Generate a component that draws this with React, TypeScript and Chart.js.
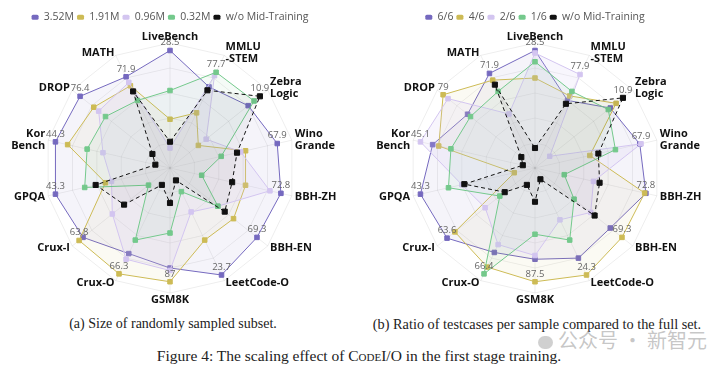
import React, { useEffect, useRef } from "react";
import { Chart, registerables } from "chart.js";

Chart.register(...registerables);
Chart.defaults.font.family = '"Open Sans", "DejaVu Sans", sans-serif';

// ---- data ----
const axisNames: string[][] = [
  ["LiveBench"], ["MMLU", "-STEM"], ["Zebra", "Logic"], ["Wino", "Grande"], ["BBH-ZH"], ["BBH-EN"],
  ["LeetCode-O"], ["GSM8K"], ["Crux-O"], ["Crux-I"], ["GPQA"], ["Kor", "Bench"], ["DROP"], ["MATH"],
];

// (a) size of randomly sampled subset — relative score per benchmark (% of axis range)
const subsetNames = ["3.52M", "1.91M", "0.96M", "0.32M", "w/o Mid-Training"];
const subset352 = [94, 72, 80, 88, 91, 89, 95, 80, 76, 89, 94, 94, 92, 81];
const subset191 = [39, 49, 29, 62, 62, 65, 64, 91, 94, 93, 53, 84, 78, 73];
const subset096 = [16, 82, 37, 58, 82, 49, 39, 82, 81, 59, 48, 55, 73, 76];
const subset032 = [62, 85, 86, 42, 26, 49, 21, 52, 64, 22, 70, 68, 66, 60];
const subsetBase = [21, 69, 92, 55, 51, 56, 11, 28, 15, 47, 61, 12, 18, 68];
const subsetMaxText = ["28.5", "77.7", "10.9", "67.9", "72.8", "69.3", "23.7", "87", "66.3", "63.8", "43.3", "44.3", "76.4", "71.9"];

// (b) ratio of testcases per sample
const ratioNames = ["6/6", "4/6", "2/6", "1/6", "w/o Mid-Training"];
const ratio66 = [94, 60, 77, 86, 91, 77, 80, 73, 75, 90, 94, 84, 69, 84];
const ratio46 = [72, 64, 83, 45, 90, 89, 95, 91, 88, 82, 17, 79, 94, 78];
const ratio26 = [92, 83, 15, 87, 48, 57, 46, 70, 68, 51, 60, 94, 89, 48];
const ratio16 = [85, 68, 75, 66, 24, 40, 64, 53, 94, 36, 71, 69, 66, 68];
const ratioBase = [16, 57, 90, 52, 53, 61, 10, 27, 15, 31, 58, 10, 14, 74];
const ratioMaxText = ["28.5", "77.9", "10.9", "67.9", "72.8", "69.3", "24.3", "87.5", "66.4", "63.6", "43.3", "45.1", "79", "71.9"];

// ---- styles ----
const lineColors = ["#7569BF", "#CDBB55", "#D3C5F0", "#74C98C", "#111111"];
const fillColors = [
  "rgba(117,105,191,0.07)",
  "rgba(205,187,85,0.07)",
  "rgba(211,197,240,0.16)",
  "rgba(116,201,140,0.07)",
  "rgba(0,0,0,0.035)",
];

const legendSpacer = {
  id: "legendSpacer",
  beforeLayout(chart: any) {
    const lg = chart.legend;
    if (lg && !lg._spaced) {
      const orig = lg.fit;
      lg.fit = function () {
        orig.call(this);
        this.height += 11;
      };
      lg._spaced = true;
    }
  },
};

const axisText = {
  id: "axisText",
  afterDatasetsDraw(chart: any, _a: any, opts: any) {
    const scale = chart.scales.r;
    const ctx = chart.ctx;
    const n = chart.data.labels.length;
    const datasets = chart.data.datasets;
    ctx.save();
    ctx.font = '9.5px "Open Sans"';
    ctx.fillStyle = "#666";
    ctx.textAlign = "center";
    ctx.textBaseline = "bottom";
    for (let i = 0; i < n; i++) {
      let best = -Infinity;
      datasets.forEach((ds: any) => {
        if (ds.data[i] > best) best = ds.data[i];
      });
      const p = scale.getPointPosition(i, scale.getDistanceFromCenterForValue(best));
      ctx.fillText(opts.values[i], p.x, p.y - 3);
    }
    ctx.font = 'bold 11px "Open Sans"';
    ctx.fillStyle = "#111";
    ctx.textBaseline = "middle";
    const lh = 12;
    for (let i = 0; i < n; i++) {
      const ang = (i * 360) / n;
      const top = ang < 1;
      const bottom = Math.abs(ang - 180) < 1;
      const p = scale.getPointPosition(i, scale.drawingArea + (top || bottom ? 0.5 : 3));
      const lines: string[] = opts.names[i];
      let align = "center";
      if (ang > 1 && ang < 179) align = "left";
      else if (ang > 181) align = "right";
      let y0: number;
      if (top) y0 = p.y - lh * lines.length + lh / 2;
      else if (bottom) y0 = p.y + lh / 2;
      else y0 = p.y - (lh * (lines.length - 1)) / 2;
      ctx.textAlign = align;
      lines.forEach((t, k) => ctx.fillText(t, p.x, y0 + k * lh));
    }
    ctx.restore();
  },
};

function RadarPanel(props: { left: number; names: string[]; series: number[][]; maxText: string[] }) {
  const ref = useRef<HTMLCanvasElement>(null);
  useEffect(() => {
    const chart = new Chart(ref.current as HTMLCanvasElement, {
      type: "radar",
      data: {
        labels: axisNames.map((a) => a.join(" ")),
        datasets: props.series.map((d, k) => ({
          label: props.names[k],
          data: d,
          borderColor: lineColors[k],
          backgroundColor: fillColors[k],
          pointBackgroundColor: lineColors[k],
          pointBorderColor: lineColors[k],
          pointStyle: "rect",
          pointRadius: k === 4 ? 3.6 : 3.2,
          pointBorderWidth: 1,
          borderWidth: 1,
          borderDash: k === 4 ? [4, 3] : [],
          fill: true,
          order: 5 - k,
        })),
      } as any,
      options: {
        animation: false,
        responsive: false,
        layout: { padding: { top: 9, bottom: 16, left: 0, right: 0 } },
        scales: {
          r: {
            min: 0,
            max: 100,
            ticks: { display: false, stepSize: 20 },
            pointLabels: { display: false },
            grid: { color: "rgba(0,0,0,0.07)" },
            angleLines: { color: "rgba(0,0,0,0.07)" },
          },
        },
        plugins: {
          tooltip: { enabled: false },
          legend: {
            position: "top",
            labels: {
              boxWidth: 7,
              boxHeight: 5,
              padding: 3,
              color: "#555",
              font: { size: 10.5 },
              useBorderRadius: true,
              borderRadius: 1.5,
              generateLabels: (c: any) =>
                c.data.datasets.map((ds: any, i: number) => ({
                  text: ds.label,
                  fillStyle: ds.borderColor,
                  strokeStyle: ds.borderColor,
                  lineWidth: 0,
                  hidden: false,
                  datasetIndex: i,
                  fontColor: "#555",
                  borderRadius: 1.5,
                })),
            },
          },
          axisText: { names: axisNames, values: props.maxText },
        } as any,
      },
      plugins: [legendSpacer, axisText],
    });
    return () => chart.destroy();
  }, []);
  return (
    <canvas
      ref={ref}
      width={360}
      height={310}
      style={{ position: "absolute", left: props.left, top: 0, width: 360, height: 310 }}
    />
  );
}

export default function App() {
  const serif = '"Liberation Serif", "Times New Roman", serif';
  return (
    <div style={{ position: "fixed", left: 0, top: 0, width: 720, height: 373, background: "#fff", overflow: "hidden" }}>
      <RadarPanel left={-10} names={subsetNames} series={[subset352, subset191, subset096, subset032, subsetBase]} maxText={subsetMaxText} />
      <RadarPanel left={355} names={ratioNames} series={[ratio66, ratio46, ratio26, ratio16, ratioBase]} maxText={ratioMaxText} />
      <div style={{ position: "absolute", left: 0, top: 316, width: 346, textAlign: "center", font: `14px ${serif}`, color: "#222", whiteSpace: "nowrap" }}>
        (a) Size of randomly sampled subset.
      </div>
      <div style={{ position: "absolute", left: 356, top: 316, width: 362, textAlign: "center", font: `14.3px ${serif}`, color: "#222", whiteSpace: "nowrap" }}>
        (b) Ratio of testcases per sample compared to the full set.
      </div>
      <div style={{ position: "absolute", left: 538, top: 325, color: "rgba(150,150,150,0.55)", font: '20px "Noto Sans CJK SC"', whiteSpace: "nowrap" }}>
        <span style={{ display: "inline-block", width: 15, height: 13, borderRadius: 7, background: "rgba(150,150,150,0.45)", marginRight: 5, verticalAlign: "middle" }} />
        公众号 · 新智元
      </div>
      <div style={{ position: "absolute", left: 0, top: 347, width: 718, textAlign: "center", font: `15.5px ${serif}`, color: "#222", whiteSpace: "nowrap" }}>
        Figure 4: The scaling effect of <span style={{ fontVariant: "small-caps" }}>CodeI/O</span> in the first stage training.
      </div>
    </div>
  );
}
